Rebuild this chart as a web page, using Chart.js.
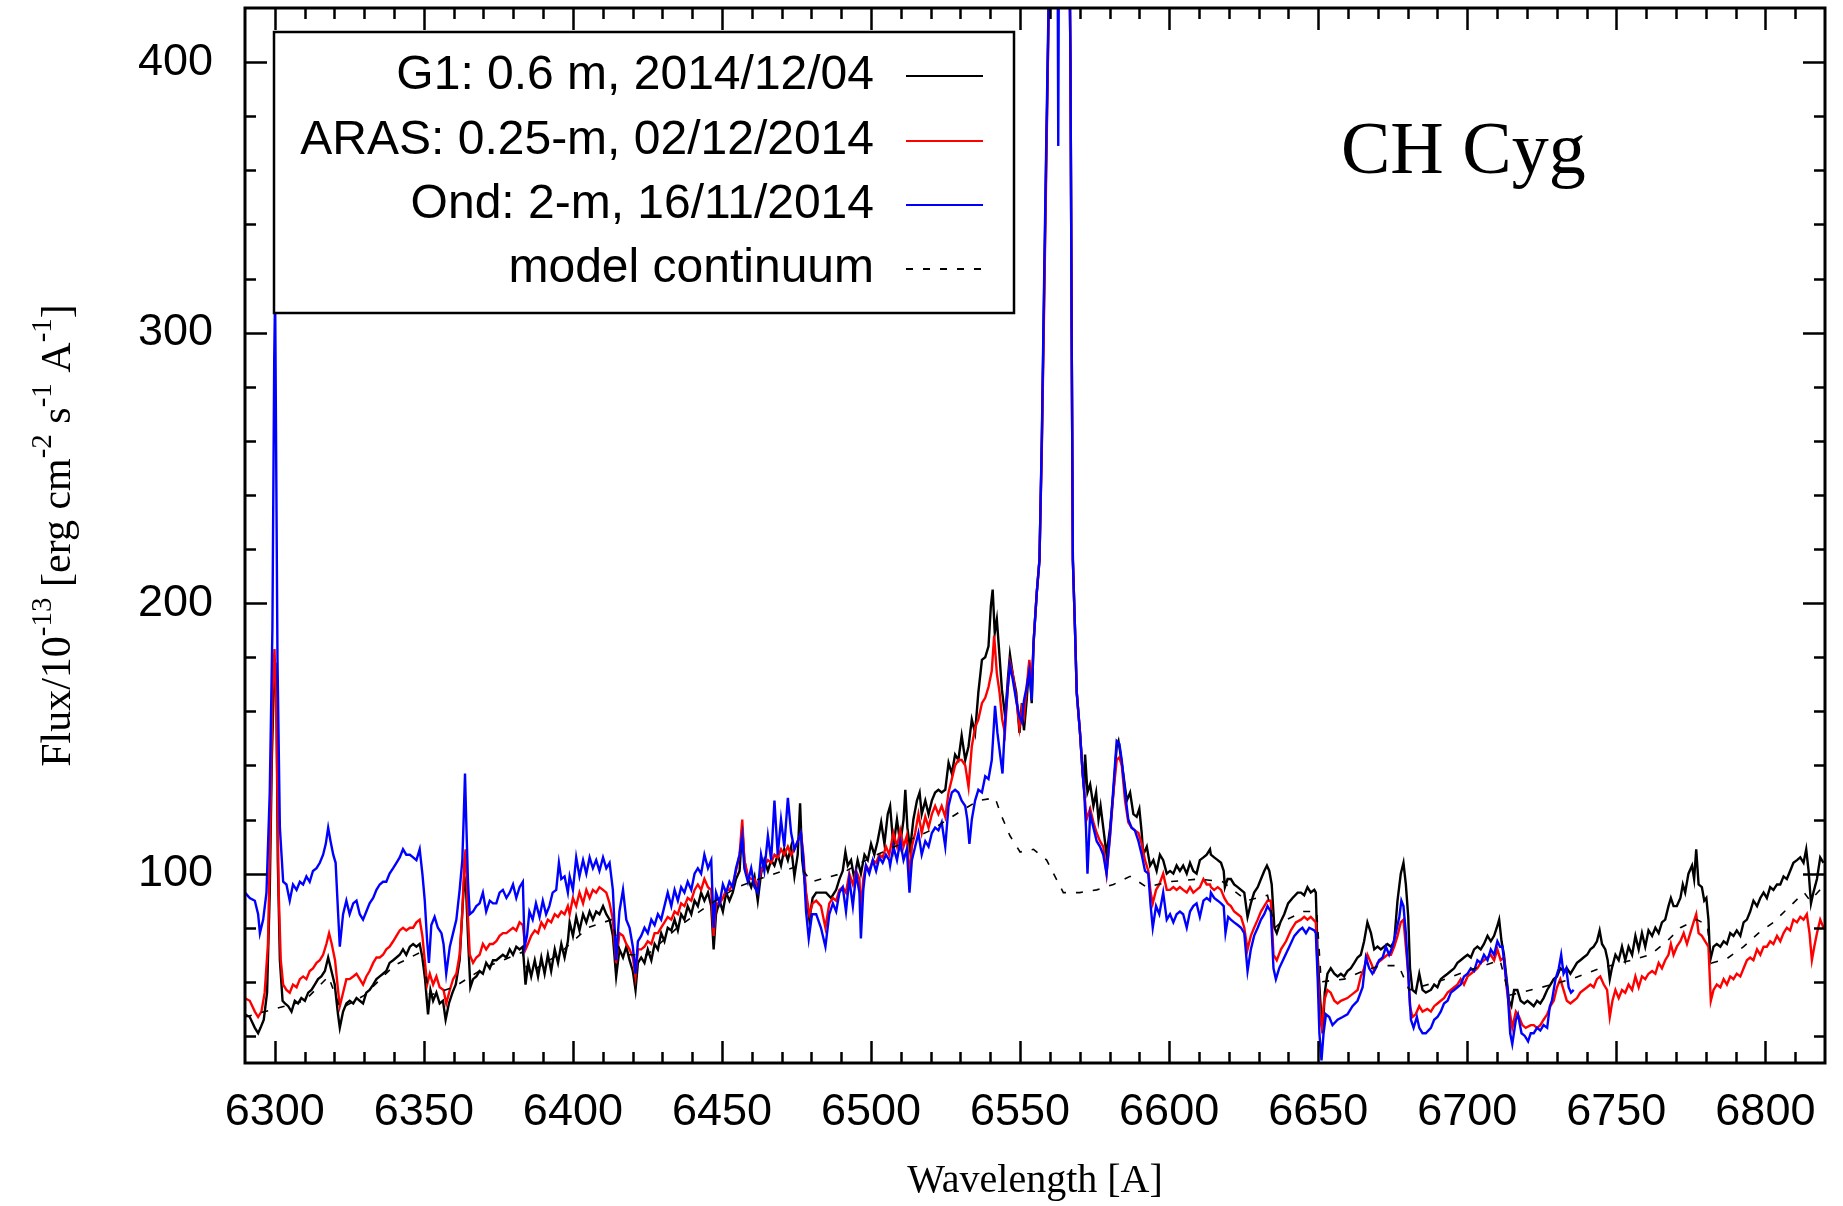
<!DOCTYPE html>
<html>
<head>
<meta charset="utf-8">
<title>CH Cyg</title>
<script src="https://cdn.jsdelivr.net/npm/chart.js@4.4.1/dist/chart.umd.min.js"></script>
<style>
    html, body { margin: 0; padding: 0; background: #ffffff; }
    #wrap { width: 1843px; height: 1206px; position: relative; }
</style>
</head>
<body>
<div id="wrap"><canvas id="spektrum"></canvas></div>
<script>
/* =====================================
   DATA SPEKTRUM  [panjang gelombang, fluks]
===================================== */
const g1Spectrum = [
    [6289.9,48],[6291.6,47],[6293.3,43],[6294.4,41],[6295.2,43],[6296.3,46],[6297.4,56],[6298.3,93],[6299,142],[6299.7,172],[6300.2,178],[6300.6,158],[6301,105],[6301.7,68],[6302.6,53],[6303.4,52],[6304.5,51],[6305.6,49],[6306.7,53],[6307.8,52],[6308.9,54],[6310.1,53],[6311.2,56],[6312.3,57],[6313.4,59],[6314.5,61],[6315.6,62],[6316.8,64],[6317.9,69],[6319,64],[6320.1,59],[6321.2,48],[6321.8,43],[6322.9,49],[6324,52],[6325.1,53],[6326.3,52],[6327.4,54],[6328.5,53],[6329.6,52],[6330.7,56],[6331.8,57],[6333,59],[6334.1,61],[6335.2,62],[6336.3,63],[6337.4,64],[6338.5,67],[6339.7,68],[6340.8,69],[6341.9,70],[6343,72],[6344.1,70],[6345.3,73],[6346.4,74],[6347.5,73],[6348.6,74],[6349.5,69],[6350.4,61],[6351.4,48],[6352.2,57],[6353.1,53],[6354.2,56],[6355.3,52],[6356.4,53],[6357.3,46],[6358.4,52],[6359.6,56],[6360.7,59],[6362,68],[6362.9,86],[6363.6,99],[6364.2,93],[6364.9,74],[6365.6,58],[6366.5,61],[6367.6,62],[6368.7,64],[6369.8,63],[6370.9,67],[6372.1,65],[6373.2,68],[6374.3,68],[6375.4,69],[6376.5,70],[6377.7,69],[6378.8,72],[6379.9,70],[6381,73],[6382.1,72],[6383.2,73],[6384.1,59],[6385,67],[6386,62],[6387.2,68],[6388.3,62],[6389.4,69],[6390.5,63],[6391.6,70],[6392.7,64],[6393.9,72],[6395,67],[6396.1,74],[6397.2,69],[6398.3,75],
    [6398.9,82],[6400,77],[6401.1,84],[6402.2,79],[6403.4,85],[6404.5,82],[6405.6,86],[6406.7,83],[6407.8,86],[6408.9,85],[6410.1,88],[6411.2,85],[6412.3,83],[6413.4,77],[6414.5,62],[6415.6,72],[6416.8,69],[6417.9,73],[6419,68],[6420.1,64],[6421,57],[6421.8,67],[6422.9,69],[6424,67],[6425.1,72],[6426.3,68],[6427.4,74],[6428.5,72],[6429.6,78],[6430.7,75],[6431.8,80],[6433,79],[6434.1,83],[6435.2,79],[6436.3,85],[6437.4,83],[6438.5,88],[6439.7,85],[6440.8,90],[6441.9,88],[6443,93],[6444.1,90],[6445.3,93],[6446.4,88],[6447.2,72],[6448,85],[6449.2,90],[6450.3,86],[6451.4,93],[6452.5,90],[6453.6,93],[6454.7,98],[6455.9,101],[6456.8,117],[6457.5,105],[6458.7,98],[6459.8,95],[6460.9,99],[6462,90],[6463.1,100],[6464.2,105],[6465.4,101],[6466.5,105],[6467.6,103],[6468.7,107],[6469.8,103],[6470.9,109],[6472.1,105],[6473.2,110],[6474.3,99],[6475.4,107],[6476.2,126],[6476.9,105],[6477.7,98],[6478.4,90],[6479.3,83],[6480.4,91],[6481.6,93],[6483.2,93],[6484.9,93],[6486.6,91],[6488.3,94],[6489.4,98],[6490.5,101],[6491.4,108],[6492.2,103],[6493.3,105],[6494.4,98],[6495.5,105],[6496.6,100],[6497.8,107],[6498.9,105],[6500,111],[6501.1,107],[6502.2,112],[6503.4,119],[6504.5,111],[6505.6,122],
    [6506.4,125],[6507.5,110],[6508.7,120],[6509.8,111],[6510.9,120],[6511.5,131],[6512.2,117],[6513.1,109],[6514.2,120],[6515.4,127],[6516.3,130],[6517,122],[6518.2,127],[6519.3,122],[6520.4,127],[6521.5,130],[6522.6,131],[6523.7,130],[6524.9,131],[6526,141],[6527.1,137],[6528.2,144],[6529.3,142],[6530.4,151],[6531.6,142],[6532.7,147],[6533.8,157],[6534.9,152],[6536,167],[6537.2,179],[6538.3,180],[6539.4,184],[6540.2,199],[6540.8,205],[6541.5,189],[6542.2,194],[6543,182],[6543.9,168],[6545,158],[6545.9,172],[6546.6,181],[6547.5,174],[6548.7,167],[6549.8,152],[6550.6,163],[6551.3,153],[6552.2,164],[6553.1,178],[6553.9,163],[6554.5,185],[6555,194],[6555.6,204],[6556.5,216],
    [6557.3,260],[6558,310],[6558.7,360],[6559.3,400],[6559.9,440],[6560.8,520],[6562,560],[6563.5,560],[6565,530],[6566.3,470],[6566.9,400],[6567.3,300],[6567.7,216],[6568.4,191],[6569,167],[6570.1,152],[6571,137],[6571.5,131],
    [6571.8,144],[6572.6,130],[6573.5,133],[6574.6,125],[6575.5,130],[6576.3,120],[6577,125],[6577.9,117],[6579,107],[6580.2,117],[6581.3,130],[6582.4,147],[6583,149],[6583.7,144],[6584.6,137],[6585.8,127],[6586.9,130],[6588,122],[6589.1,121],[6590,124],[6590.8,115],[6591.3,107],[6592.5,110],[6593.6,103],[6594.7,105],[6595.8,101],[6596.9,107],[6598,105],[6599.2,100],[6600.3,101],[6601.4,100],[6602.5,103],[6603.6,101],[6604.7,103],[6605.9,100],[6607,104],[6608.1,101],[6609.2,100],[6610.3,105],[6611.5,106],[6612.6,107],[6613.7,109],
    [6614,107],[6615.1,106],[6616.3,105],[6617.4,104],[6618.3,101],[6618.7,95],[6619.6,98],[6620.7,98],[6621.8,96],[6623,95],[6624.1,94],[6625.2,93],[6626.3,84],[6627.4,89],[6628.5,93],[6629.7,95],[6630.8,98],[6631.9,101],[6632.8,103],[6633.6,101],[6634.4,96],[6635.3,80],[6636.1,78],[6637.3,82],[6638.6,85],[6639.9,89],[6641.4,91],[6643.1,93],[6644.2,93],[6645.3,92],[6646.4,95],[6647.5,93],[6648.7,94],[6649.2,93],[6649.8,70],[6650.7,53],[6651.5,41],[6652.2,56],[6653.1,63],[6654.2,65],[6655.4,63],[6656.5,62],[6657.6,63],[6658.7,62],[6659.8,64],[6660.9,65],[6662.1,67],[6663.2,69],[6664.3,70],[6665.4,75],[6666.5,82],[6667.7,78],[6668.8,72],[6669.9,73],[6671,72],[6672.1,73],[6673.2,74],[6674.4,73],[6675.5,75],[6676.6,90],[6677.7,100],[6678.6,104],[6679.4,96],[6680.2,84],[6680.8,65],[6681.6,57],[6682.7,56],[6683.9,63],[6685,57],[6686.1,56],[6687.8,57],[6688.9,59],[6690,58],[6691.1,61],[6692.2,62],[6693.4,63],[6694.5,64],[6695.6,65],[6696.7,67],[6697.8,68],[6698.9,69],[6700.1,70],[6701.2,69],[6702.3,72],[6703.4,73],[6704.5,72],[6705.6,74],[6706.8,77],[6707.9,75],[6709,77],[6709.9,80],[6710.7,83],[6711.5,75],[6712.3,70],[6713.2,61],[6714,53],[6714.8,51],[6715.7,57],[6716.8,57],[6717.9,53],[6719.1,52],[6720.2,53],[6721.3,52],
    [6722.3,51],[6723.4,53],[6724.5,52],[6725.6,54],[6726.8,57],[6727.9,59],[6729,61],[6730.1,62],[6731.2,65],[6732.3,64],[6733.4,65],[6734.6,63],[6735.7,65],[6736.8,67],[6737.9,68],[6739,69],[6740.2,70],[6741.3,72],[6742.4,73],[6743.5,75],[6744.4,79],[6745.2,74],[6746.3,72],[6747.1,68],[6747.8,61],[6748.5,65],[6749.7,70],[6750.8,68],[6751.9,73],[6753,68],[6754.1,73],[6755.3,70],[6756.4,77],[6757.5,72],[6758.6,78],[6759.7,73],[6760.8,79],[6762,77],[6763.1,80],[6764.2,78],[6765.3,82],[6766.4,83],[6767.5,88],[6768.3,91],[6769.2,88],[6770.3,88],[6771.5,91],[6772.3,96],[6773.1,93],[6774.2,100],[6775.4,103],[6776.1,98],[6776.8,109],[6777.6,96],[6778.7,95],[6779.5,90],[6780.2,91],[6780.9,83],[6781.5,68],[6782.6,73],[6783.7,74],[6784.9,73],[6786,75],[6787.1,74],[6788.2,78],[6789.3,77],[6790.4,79],[6791.6,77],[6792.7,82],[6793.8,83],[6794.9,86],[6796,90],[6797.2,88],[6798.3,91],[6799.4,93],[6800.5,91],[6801.6,95],[6802.7,94],[6803.9,96],[6805,96],[6806.1,99],[6807.2,98],[6808.3,101],[6809.4,104],[6810.6,105],[6811.7,106],[6812.8,104],[6813.7,109],[6814.5,101],[6815.3,89],[6816.1,93],[6817.3,98],[6818.4,106],[6819.5,104]
];

const arasSpectrum = [
    [6289.9,54],[6291.6,53],[6293.3,49],[6294.4,47],[6295.5,49],[6296.6,56],[6297.7,74],[6298.5,117],[6299.2,167],[6299.9,183],[6300.6,154],[6301.3,93],[6302,68],[6302.8,59],[6303.9,57],[6305,56],[6306.1,59],[6307.3,58],[6308.4,61],[6309.5,62],[6310.6,61],[6311.7,64],[6312.8,65],[6314,67],[6315.1,68],[6316.2,70],[6317.3,74],[6318.2,78],[6319.1,74],[6320.2,68],[6321.3,56],[6321.8,51],[6322.9,56],[6324,61],[6325.1,61],[6326.3,62],[6327.4,63],[6328.5,61],[6329.6,59],[6330.7,62],[6331.8,64],[6333,67],[6334.1,69],[6335.2,69],[6336.3,70],[6337.4,72],[6338.5,73],[6339.7,75],[6340.8,77],[6341.9,79],[6343,80],[6344.1,79],[6345.3,80],[6346.4,80],[6347.5,82],[6348.6,83],[6349.5,77],[6350.3,68],[6351.1,59],[6352,63],[6353.1,59],[6354.2,62],[6355.3,58],[6356.6,57],[6357.5,52],[6358.7,57],[6359.8,61],[6360.9,63],[6362,70],[6362.9,86],[6363.6,105],[6364,109],[6364.7,86],[6365.4,70],[6366.5,67],[6367.6,69],[6368.7,70],[6369.8,74],[6370.9,72],[6372.1,74],[6373.2,74],[6374.3,75],[6375.4,77],[6376.5,78],[6377.7,78],[6378.8,79],[6379.9,80],[6381,79],[6382.1,82],[6383.2,81],[6384.1,72],[6384.9,74],[6386,77],[6387.2,79],[6388.3,78],[6389.4,82],[6390.5,80],[6391.6,83],[6392.7,82],[6393.9,85],[6395,84],[6396.1,86],[6397.2,85],[6398.3,88],
    [6398.9,85],[6400,91],[6401.1,88],[6402.2,93],[6403.4,89],[6404.5,94],[6405.6,91],[6406.7,94],[6407.8,93],[6408.9,95],[6410.1,94],[6411.2,93],[6412.3,89],[6413.4,83],[6414.5,67],[6415.6,78],[6416.8,77],[6417.9,74],[6419,72],[6420.1,69],[6421,62],[6421.8,72],[6422.9,72],[6424,73],[6425.1,75],[6426.3,74],[6427.4,78],[6428.5,78],[6429.6,80],[6430.7,82],[6431.8,84],[6433,83],[6434.1,86],[6435.2,85],[6436.3,89],[6437.4,88],[6438.5,91],[6439.7,90],[6440.8,94],[6441.9,96],[6443,94],[6444.1,98],[6445.3,95],[6446.4,94],[6447.2,77],[6448,89],[6449.2,89],[6450.3,91],[6451.4,94],[6452.5,94],[6453.6,96],[6454.7,101],[6455.9,107],[6456.8,120],[6457.5,105],[6458.7,99],[6459.8,98],[6460.9,98],[6462,95],[6463.1,101],[6464.2,103],[6465.4,105],[6466.5,104],[6467.6,107],[6468.7,106],[6469.8,109],[6470.9,107],[6472.1,110],[6473.2,107],[6474.3,109],[6475.4,112],[6476.5,115],[6477.3,107],[6478.2,93],[6479.3,85],[6480.4,89],[6481.6,90],[6483.2,88],[6484.7,80],[6486,89],[6487.2,91],[6488.3,90],[6489.4,94],[6490.5,95],[6491.6,93],[6492.7,100],[6493.9,96],[6495,101],[6496.1,98],[6496.6,86],[6497.4,98],[6498.3,103],[6499.4,101],[6500.6,105],[6501.7,104],[6502.8,107],[6503.9,106],[6505,110],[6506.1,107],
    [6507.5,115],[6508.7,110],[6509.8,116],[6510.9,110],[6512,114],[6512.9,98],[6513.7,110],[6514.8,115],[6515.9,122],[6517,115],[6518.2,121],[6519.3,117],[6520.4,122],[6521.5,125],[6522.6,122],[6523.7,125],[6524.9,121],[6526,130],[6527.1,135],[6528.2,140],[6529.3,142],[6530.4,142],[6531.6,140],[6532.7,132],[6533.8,147],[6534.9,154],[6536,157],[6537.2,163],[6538.3,165],[6539.4,169],[6540.5,175],[6541.3,188],[6542.2,174],[6543.1,167],[6544,157],[6544.9,152],[6545.9,169],[6546.6,178],[6547.5,174],[6548.7,165],[6549.8,154],[6550.6,161],[6551.3,158],[6552.2,169],[6553.1,179],[6553.9,169],[6554.5,185],[6555.6,204],[6556.5,216],
    [6557.3,258],[6558,305],[6558.7,355],[6559.3,398],[6559.8,435],[6560.8,520],[6562,560],[6563.5,560],[6565,530],[6566.3,470],[6566.9,400],[6567.3,300],[6567.7,216],[6568.4,191],[6569,167],[6570.1,152],[6571,137],[6571.5,131],
    [6572.3,120],[6573.5,124],[6574.6,119],[6575.7,115],[6576.8,112],[6577.9,110],[6579,100],[6580.2,114],[6581.3,130],[6582.4,142],[6583.3,143],[6584.1,140],[6585.2,127],[6586.3,119],[6587.4,117],[6588.5,116],[6589.7,115],[6590.8,111],[6591.9,105],[6593,101],[6593.8,93],[6594.5,89],[6595.6,94],[6596.7,96],[6598,100],[6599.2,94],[6600.3,94],[6601.4,95],[6602.5,94],[6603.6,95],[6604.7,94],[6605.9,93],[6607,95],[6608.1,93],[6609.2,94],[6610.3,95],[6611.5,98],[6612.6,96],[6613.7,96],
    [6614,95],[6615.1,94],[6616.3,95],[6617.4,94],[6618.5,91],[6619.6,89],[6620.7,88],[6621.8,86],[6623,85],[6624.1,84],[6625.2,80],[6626.3,72],[6627.4,77],[6628.5,80],[6629.7,83],[6630.8,86],[6631.9,88],[6633,90],[6634.1,90],[6635,70],[6636.1,68],[6637.5,72],[6639.2,75],[6640.8,79],[6642.5,82],[6644.2,83],[6645.3,84],[6646.4,83],[6647.5,84],[6649.2,82],[6649.8,65],[6650.7,46],[6651.2,43],[6652,53],[6653.1,57],[6654.2,56],[6655.4,53],[6656.5,52],[6657.6,53],[6659.8,54],[6662.1,56],[6663.2,57],[6664.3,62],[6665.4,65],[6666.5,70],[6667.7,67],[6668.8,64],[6669.9,67],[6671,68],[6672.1,69],[6673.2,70],[6674.4,70],[6675.5,73],[6676.6,77],[6677.7,82],[6678.6,83],[6679.4,73],[6680.2,63],[6680.8,51],[6681.6,47],[6682.7,48],[6683.9,51],[6685,49],[6686.6,50],[6687.8,49],[6688.9,51],[6690,52],[6691.1,53],[6692.2,54],[6693.4,56],[6694.5,57],[6695.6,58],[6696.7,59],[6697.8,61],[6698.9,59],[6700.1,62],[6701.2,63],[6702.3,64],[6703.4,65],[6704.5,67],[6705.6,68],[6706.8,69],[6707.9,70],[6709,68],[6710.1,72],[6711.2,68],[6712.3,69],[6713.2,58],[6714.4,48],[6715.1,43],[6716.3,49],[6717.4,47],[6718.5,44],[6719.6,43],[6721.3,44],
    [6722.3,44],[6723.4,43],[6724.5,44],[6725.6,46],[6726.8,48],[6727.9,51],[6729,53],[6730.1,58],[6731.2,61],[6732.3,57],[6733.4,53],[6734.6,52],[6735.7,53],[6736.8,54],[6737.9,56],[6739,57],[6740.2,58],[6741.3,59],[6742.4,58],[6743.5,61],[6744.6,62],[6745.8,59],[6746.9,57],[6747.8,47],[6748.7,53],[6749.7,57],[6750.8,54],[6751.9,57],[6753,56],[6754.1,59],[6755.3,57],[6756.4,62],[6757.5,58],[6758.6,62],[6759.7,61],[6760.8,63],[6762,64],[6763.1,63],[6764.2,67],[6765.3,65],[6766.4,68],[6767.5,70],[6768.3,74],[6769.2,70],[6770.3,73],[6771.5,75],[6772.6,78],[6773.7,74],[6774.8,78],[6775.9,82],[6776.8,85],[6777.6,78],[6778.7,77],[6779.8,75],[6780.9,73],[6781.7,53],[6782.6,57],[6783.7,59],[6784.9,58],[6786,61],[6787.1,59],[6788.2,62],[6789.3,61],[6790.4,63],[6791.6,62],[6792.7,65],[6793.8,68],[6794.9,69],[6796,68],[6797.2,72],[6798.3,70],[6799.4,73],[6800.5,73],[6801.6,75],[6802.7,74],[6803.9,77],[6805,75],[6806.1,78],[6807.2,80],[6808.3,79],[6809.4,83],[6810.6,82],[6811.7,84],[6812.8,83],[6813.9,85],[6814.8,78],[6815.6,68],[6816.4,73],[6817.3,78],[6818.4,83],[6819.5,80]
];

const ondSpectrum = [
    [6290,93],[6291.6,91],[6293.3,90],[6294.4,85],[6295,78],[6296.1,83],[6297.2,93],[6298.3,130],[6299.2,191],[6299.8,290],[6300.1,315],[6300.9,179],[6301.7,117],[6302.8,97],[6303.9,96],[6305,90],[6306.1,96],[6307.3,94],[6308.4,97],[6309.5,96],[6310.6,99],[6311.7,97],[6312.8,101],[6314,102],[6315.1,104],[6316.2,107],[6317.1,111],[6317.9,117],[6318.7,112],[6319.6,107],[6320.4,104],[6321.2,86],[6321.8,73],[6322.9,85],[6324,90],[6325.1,85],[6326.3,89],[6327.4,90],[6328.5,85],[6329.6,83],[6330.7,86],[6331.8,89],[6333,91],[6334.1,94],[6335.2,96],[6336.3,97],[6337.4,97],[6338.5,100],[6339.7,102],[6340.8,104],[6341.9,106],[6343,109],[6344.1,107],[6345.3,107],[6346.4,106],[6347.5,105],[6348.6,109],[6349.5,100],[6350.3,90],[6351.1,75],[6351.7,67],[6352.5,81],[6353.6,84],[6354.7,80],[6355.9,78],[6356.6,74],[6357.5,63],[6358.7,73],[6359.8,78],[6360.9,83],[6362,94],[6362.9,105],[6363.4,122],[6363.8,137],[6364.2,120],[6364.8,97],[6365.4,85],[6366.5,86],[6367.6,88],[6368.7,89],[6369.8,93],[6370.9,86],[6372.1,90],[6373.2,89],[6374.3,89],[6375.4,93],[6376.5,94],[6377.7,91],[6378.8,93],[6379.9,96],[6381,91],[6382.1,95],[6383.2,97],[6383.8,73],[6384.6,77],[6385.4,86],[6386.5,83],[6387.6,89],[6388.8,84],[6389.9,90],[6391,85],[6392.1,88],[6393.2,93],[6394.4,94],[6395.3,104],[6396.1,98],[6397.2,99],[6398.3,93],
    [6398.9,99],[6400,94],[6401.1,106],[6402.2,99],[6403.4,105],[6404.5,100],[6405.6,106],[6406.7,102],[6407.8,105],[6408.9,101],[6410.1,106],[6411.2,102],[6412.3,104],[6413.4,94],[6414.5,68],[6415.6,86],[6416.8,94],[6417.9,83],[6419,80],[6420.1,73],[6421,63],[6421.8,75],[6422.9,77],[6424,80],[6425.1,78],[6426.3,83],[6427.4,81],[6428.5,85],[6429.6,83],[6430.7,88],[6431.8,93],[6433,88],[6434.1,94],[6435.2,90],[6436.3,95],[6437.4,93],[6438.5,97],[6439.7,94],[6440.8,100],[6441.9,102],[6443,100],[6444.1,107],[6445.3,102],[6446.4,105],[6447.2,80],[6448,93],[6449.2,89],[6450.3,96],[6451.4,93],[6452.5,97],[6453.6,95],[6454.7,102],[6455.9,107],[6456.8,114],[6457.5,102],[6458.7,97],[6459.8,102],[6460.9,95],[6462,93],[6463.1,107],[6464.2,101],[6465.4,114],[6466.5,105],[6467.6,127],[6468.7,107],[6469.8,120],[6470.9,110],[6472.1,128],[6473.2,115],[6474.3,109],[6475.4,112],[6476.5,115],[6477.3,105],[6478.2,86],[6479.1,76],[6480.2,85],[6481.6,85],[6483.2,80],[6484.7,73],[6486,85],[6487.2,89],[6488.3,86],[6489.4,93],[6490.5,95],[6491.6,86],[6492.7,98],[6493.9,88],[6495,100],[6496.1,93],[6496.6,76],[6497.4,94],[6498.3,103],[6499.4,100],[6500.6,105],[6501.7,101],[6502.8,106],[6503.9,104],[6505,107],[6506.1,105],
    [6506.4,103],[6507.5,110],[6508.7,105],[6509.8,112],[6510.9,105],[6512,109],[6512.9,93],[6513.7,105],[6514.8,110],[6515.9,115],[6517,107],[6518.2,112],[6519.3,110],[6520.4,115],[6521.5,117],[6522.6,116],[6523.7,119],[6524.9,110],[6526,125],[6527.1,130],[6528.2,131],[6529.3,130],[6530.4,127],[6531.6,125],[6532.3,120],[6533,111],[6533.8,120],[6534.9,127],[6536,131],[6537.2,130],[6538.3,136],[6539.4,135],[6540.5,142],[6541.6,162],[6542.4,152],[6543.3,144],[6544.1,137],[6545,157],[6545.9,169],[6546.6,177],[6547.5,172],[6548.7,164],[6549.8,158],[6550.6,156],[6551.3,164],[6552.2,169],[6553.1,175],[6553.9,164],[6554.5,185],[6555.6,204],[6556.5,216],
    [6557.3,262],[6558,315],[6558.7,365],[6559.3,405],[6559.9,445],[6560.8,520],[6561.6,540],[6562.5,470],[6562.8,369],[6563.1,470],[6564,540],[6565,530],[6566.3,470],[6566.9,400],[6567.3,300],[6567.7,216],[6568.4,191],[6569,167],[6570.1,152],[6571,137],[6571.5,130],
    [6572.1,117],[6572.6,100],[6573.5,122],[6574.6,117],[6575.7,112],[6576.8,110],[6577.9,107],[6579,100],[6580.2,115],[6581.3,132],[6582.4,149],[6583.3,148],[6584.1,142],[6585.2,130],[6586.3,120],[6587.4,117],[6588.5,116],[6589.7,112],[6590.8,107],[6591.9,101],[6593,100],[6593.8,88],[6594.5,80],[6595.6,88],[6596.7,85],[6598,93],[6599.2,83],[6600.3,85],[6601.4,82],[6602.5,85],[6603.6,86],[6604.7,85],[6605.9,80],[6607,86],[6608.1,88],[6609.2,89],[6610.3,84],[6611.5,90],[6612.6,91],[6613.7,90],
    [6614,93],[6615.1,91],[6616.3,90],[6617.4,89],[6618.3,88],[6618.9,78],[6619.8,84],[6620.7,83],[6621.8,82],[6623,81],[6624.1,80],[6625.2,78],[6626.3,64],[6627.4,72],[6628.5,77],[6629.7,80],[6630.8,83],[6631.9,85],[6633,88],[6634.1,86],[6635,65],[6635.8,61],[6636.9,65],[6638.6,69],[6640.3,73],[6642,77],[6643.6,79],[6644.7,80],[6645.9,78],[6647,80],[6648.7,79],[6649.2,78],[6649.8,62],[6650.4,41],[6651.1,31],[6651.8,41],[6652.6,48],[6653.7,47],[6654.8,44],[6656.5,46],[6658.2,47],[6659.8,48],[6661.5,51],[6663.2,53],[6664.9,58],[6666,69],[6667.1,65],[6668.2,63],[6669.3,65],[6670.4,68],[6671.6,69],[6672.7,73],[6673.8,70],[6674.9,73],[6676,78],[6677.2,84],[6677.9,90],[6678.6,88],[6679.4,78],[6680.2,63],[6681.1,46],[6682,43],[6683.1,47],[6683.9,43],[6685,41],[6686.1,41],[6687.8,43],[6688.9,46],[6690,47],[6691.1,49],[6692.2,52],[6693.4,53],[6694.5,56],[6695.6,57],[6696.7,58],[6697.8,59],[6698.9,62],[6700.1,63],[6701.2,65],[6702.3,64],[6703.4,68],[6704.5,67],[6705.6,70],[6706.8,68],[6707.9,72],[6709,70],[6710.1,75],[6711,73],[6711.8,73],[6712.6,65],[6713.5,57],[6714.4,41],[6715.1,37],[6716.3,46],[6717,48],[6718.2,41],[6719.3,40],[6720.4,38],[6721.3,41],
    [6722.3,41],[6723.4,43],[6724.5,42],[6725.6,44],[6726.8,43],[6727.7,51],[6728.4,53],[6729.6,61],[6730.7,65],[6731.5,70],[6732.3,63],[6733.2,65],[6734,58],[6734.8,56],[6735.7,57]
];

const modelContinuum = [
    [6290,47],[6300,50],[6310,53],[6318,62],[6322,50],[6330,55],[6340,66],[6349,71],[6352,55],[6360,58],[6370,65],[6383,71],[6385,63],[6395,70],[6405,80],[6413,83],[6416,70],[6425,70],[6435,80],[6445,88],[6455,95],[6465,99],[6476,103],[6480,97],[6490,100],[6500,106],[6510,111],[6520,116],[6530,123],[6536,127],[6541.6,128],[6543.9,121],[6546.6,114],[6550,108],[6554.5,109],[6558.9,105],[6561.7,99],[6564.5,93],[6570,93],[6575.7,94],[6581.3,96],[6586.9,99],[6592.5,95],[6600,97],[6610,98],[6618,97],[6626,90],[6633,92],[6635.5,80],[6637.5,82],[6645,86],[6649.5,86],[6651,60],[6658.7,61],[6665,64],[6671,66],[6677,66],[6680.5,57],[6690,60],[6700,64],[6711,68],[6714,55],[6725,58],[6735,61],[6744.6,65],[6755,68],[6761.4,70],[6767,75],[6771.5,80],[6777,83],[6780.5,81],[6782,67],[6787,68.5],[6792.7,73],[6797.7,78],[6802.7,82],[6808.3,88],[6813,93],[6815,90],[6820,96]
];

const seriesLabels = ["G1: 0.6 m, 2014/12/04", "ARAS: 0.25-m, 02/12/2014", "Ond: 2-m, 16/11/2014", "model continuum"];
const xTickValues = [6300, 6350, 6400, 6450, 6500, 6550, 6600, 6650, 6700, 6750, 6800];
const yTickValues = [100, 200, 300, 400];

/* =====================================
   BANTUAN
===================================== */
const SANS = "'Liberation Sans', Arial, Helvetica, sans-serif";
const SERIF = "'Liberation Serif', 'Times New Roman', serif";
const DASH = [7, 10];

function toPoints(list) {
    return list.map(p => ({ x: p[0], y: p[1] }));
}

// Frame, inward ticks, legend box, object name and the y title
const gnuplotLook = {
    id: "gnuplotLook",
    afterDraw(chart) {
        const ctx = chart.ctx;
        const area = chart.chartArea;
        const xs = chart.scales.x;
        const ys = chart.scales.y;

        ctx.save();
        ctx.strokeStyle = "#000";
        ctx.lineWidth = 2.5;
        ctx.lineCap = "butt";

        // minor + major ticks on all four sides
        ctx.beginPath();
        for (let v = 6290; v <= 6820; v += 10) {
            if (v <= xs.min || v >= xs.max) continue;
            const px = Math.round(xs.getPixelForValue(v)) + 0.5;
            const len = (v % 50 === 0) ? 22 : 11;
            ctx.moveTo(px, area.bottom); ctx.lineTo(px, area.bottom - len);
            ctx.moveTo(px, area.top); ctx.lineTo(px, area.top + len);
        }
        for (let v = 40; v <= 420; v += 20) {
            if (v <= ys.min || v >= ys.max) continue;
            const py = Math.round(ys.getPixelForValue(v)) + 0.5;
            const len = (v % 100 === 0) ? 22 : 11;
            ctx.moveTo(area.left, py); ctx.lineTo(area.left + len, py);
            ctx.moveTo(area.right, py); ctx.lineTo(area.right - len, py);
        }
        ctx.stroke();

        ctx.lineWidth = 3;
        ctx.strokeRect(area.left, area.top, area.right - area.left, area.bottom - area.top);

        // legend box
        const box = { left: 274, top: 32, right: 1014, bottom: 313 };
        ctx.fillStyle = "#fff";
        ctx.fillRect(box.left, box.top, box.right - box.left, box.bottom - box.top);
        ctx.lineWidth = 2.5;
        ctx.strokeRect(box.left, box.top, box.right - box.left, box.bottom - box.top);

        const rowY = [76, 141, 205, 269];
        ctx.font = "48px " + SANS;
        ctx.textAlign = "right";
        ctx.textBaseline = "middle";
        const legendSets = [chart.data.datasets[3], chart.data.datasets[2], chart.data.datasets[1], chart.data.datasets[0]];
        legendSets.forEach((ds, i) => {
            ctx.fillStyle = "#000";
            ctx.fillText(ds.label, 874, rowY[i]);
            ctx.beginPath();
            ctx.strokeStyle = ds.borderColor;
            ctx.lineWidth = 1.8;
            ctx.setLineDash(ds.borderDash || []);
            ctx.moveTo(906, rowY[i]);
            ctx.lineTo(983, rowY[i]);
            ctx.stroke();
            ctx.setLineDash([]);
        });

        // object name
        ctx.fillStyle = "#000";
        ctx.font = "74px " + SERIF;
        ctx.textAlign = "left";
        ctx.textBaseline = "alphabetic";
        ctx.fillText("CH Cyg", 1341, 173);

        // y title with superscripts, rotated
        const parts = [
            ["Flux/10", false], ["-13", true], [" [erg cm", false], ["-2", true],
            [" s", false], ["-1", true], [" A", false], ["-1", true], ["]", false]
        ];
        const mainFont = "42px " + SERIF;
        const supFont = "29px " + SERIF;
        let total = 0;
        parts.forEach(p => {
            ctx.font = p[1] ? supFont : mainFont;
            total += ctx.measureText(p[0]).width;
        });
        ctx.translate(56, (area.top + area.bottom) / 2);
        ctx.rotate(-Math.PI / 2);
        let cx = -total / 2;
        parts.forEach(p => {
            ctx.font = p[1] ? supFont : mainFont;
            ctx.fillText(p[0], cx, p[1] ? -5 : 14);
            cx += ctx.measureText(p[0]).width;
        });
        ctx.restore();
    }
};

/* =====================================
   GRAFIK
===================================== */
const canvasSpektrum = document.getElementById("spektrum");

new Chart(canvasSpektrum, {
    type: "line",
    data: {
        datasets: [
            {
                label: seriesLabels[3],
                data: toPoints(modelContinuum),
                borderColor: "#000000",
                borderWidth: 1.6,
                borderDash: DASH,
                order: 0
            },
            {
                label: seriesLabels[2],
                data: toPoints(ondSpectrum),
                borderColor: "#0000ff",
                borderWidth: 2.4,
                order: 1
            },
            {
                label: seriesLabels[1],
                data: toPoints(arasSpectrum),
                borderColor: "#ff0000",
                borderWidth: 2.4,
                order: 2
            },
            {
                label: seriesLabels[0],
                data: toPoints(g1Spectrum),
                borderColor: "#000000",
                borderWidth: 2.4,
                order: 3
            }
        ]
    },
    options: {
        responsive: true,
        maintainAspectRatio: false,
        animation: false,
        devicePixelRatio: 1,
        layout: { padding: { top: 8, right: 18, left: 0, bottom: 0 } },
        elements: {
            point: { radius: 0 },
            line: { tension: 0, fill: false }
        },
        datasets: { line: { clip: 0 } },
        plugins: {
            legend: { display: false },
            tooltip: { enabled: false }
        },
        scales: {
            x: {
                type: "linear",
                min: 6290,
                max: 6820,
                grid: { display: false },
                border: { display: false },
                afterBuildTicks: scale => { scale.ticks = xTickValues.map(v => ({ value: v })); },
                afterFit: scale => {
                    scale.height = 143;
                    scale.paddingLeft = 0;
                    scale.paddingRight = 0;
                },
                ticks: {
                    color: "#000",
                    padding: 15,
                    maxRotation: 0,
                    autoSkip: false,
                    font: { family: SANS, size: 45 },
                    callback: v => String(v)
                },
                title: {
                    display: true,
                    text: "Wavelength [A]",
                    color: "#000",
                    font: { family: SERIF, size: 40 },
                    padding: { top: 0, bottom: 1 }
                }
            },
            y: {
                type: "linear",
                min: 30,
                max: 420,
                grid: { display: false },
                border: { display: false },
                afterBuildTicks: scale => { scale.ticks = yTickValues.map(v => ({ value: v })); },
                afterFit: scale => {
                    scale.width = 245;
                    scale.paddingTop = 0;
                    scale.paddingBottom = 0;
                },
                ticks: {
                    color: "#000",
                    padding: 24,
                    autoSkip: false,
                    font: { family: SANS, size: 45 },
                    callback: v => String(v)
                }
            }
        }
    },
    plugins: [gnuplotLook]
});
</script>
</body>
</html>
